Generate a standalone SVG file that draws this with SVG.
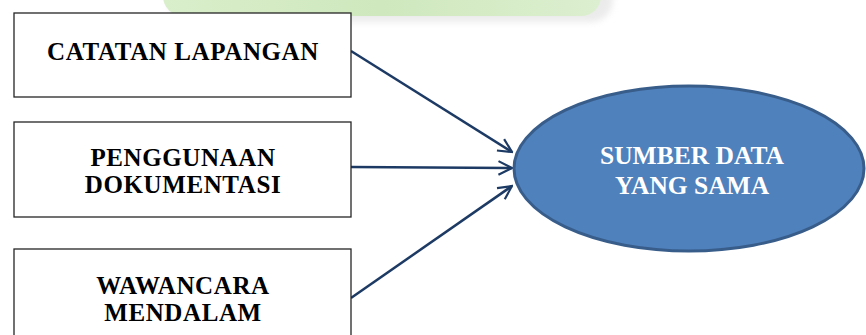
<svg xmlns="http://www.w3.org/2000/svg" width="866" height="335" viewBox="0 0 866 335">
  <defs>
    <style>
      .box { fill: #ffffff; stroke: #262626; stroke-width: 1.3; }
      .lbl { font-family: "Liberation Serif", "Times New Roman", serif; font-weight: bold; font-size: 25px; letter-spacing: 0.6px; fill: #000000; text-anchor: middle; }
      .wlbl { font-family: "Liberation Serif", "Times New Roman", serif; font-weight: bold; font-size: 25.5px; fill: #ffffff; text-anchor: middle; }
      .conn { stroke: #1c3a64; stroke-width: 2.5; fill: none; marker-end: url(#arr); }
    </style>
    <marker id="arr" viewBox="0 0 12 12" refX="11" refY="6" markerWidth="6.5" markerHeight="6.5" orient="auto" markerUnits="strokeWidth">
      <path d="M1,1 L11,6 L1,11" fill="none" stroke="#1c3a64" stroke-width="1.6"/>
    </marker>
    <linearGradient id="green" x1="0" y1="0" x2="1" y2="0">
      <stop offset="0" stop-color="#d9eecb"/>
      <stop offset="0.5" stop-color="#cfe8bd"/>
      <stop offset="1" stop-color="#dcefd0"/>
    </linearGradient>
    <filter id="soft" x="-10%" y="-50%" width="120%" height="250%">
      <feGaussianBlur stdDeviation="3"/>
    </filter>
  </defs>

  <g id="banner">
    <rect x="168" y="-30" width="445" height="52" rx="22" fill="#c8c8c8" opacity="0.35" filter="url(#soft)"/>
    <rect x="163" y="-30" width="438" height="46" rx="20" fill="url(#green)"/>
  </g>

  <g id="connectors">
    <line class="conn" x1="351" y1="51" x2="512" y2="152"/>
    <line class="conn" x1="351" y1="167" x2="512" y2="168"/>
    <line class="conn" x1="351" y1="298" x2="512" y2="186"/>
  </g>

  <g id="node-catatan">
    <rect class="box" x="14" y="13" width="337" height="84"/>
    <text class="lbl" x="183" y="60">CATATAN LAPANGAN</text>
  </g>

  <g id="node-dokumentasi">
    <rect class="box" x="14" y="122" width="337" height="95"/>
    <text class="lbl" x="183" y="166">PENGGUNAAN</text>
    <text class="lbl" x="183" y="193">DOKUMENTASI</text>
  </g>

  <g id="node-wawancara">
    <rect class="box" x="14" y="249" width="337" height="100"/>
    <text class="lbl" x="183" y="294">WAWANCARA</text>
    <text class="lbl" x="183" y="321">MENDALAM</text>
  </g>

  <g id="node-sumber">
    <ellipse cx="689" cy="168.5" rx="175" ry="82.5" fill="#4f81bd" stroke="#385d8a" stroke-width="3"/>
    <text class="wlbl" x="692" y="164">SUMBER DATA</text>
    <text class="wlbl" x="692" y="194">YANG SAMA</text>
  </g>
</svg>
